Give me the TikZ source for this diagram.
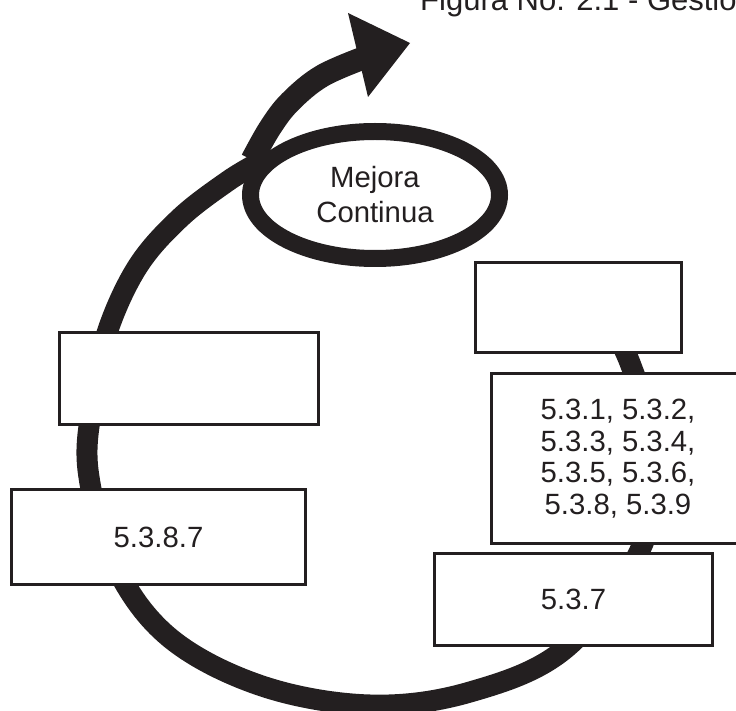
\documentclass[tikz,border=0pt]{standalone}
\usepackage{fontspec}
\setmainfont{Liberation Sans}
\usetikzlibrary{shapes.geometric}
\definecolor{ink}{HTML}{231F20}
\begin{document}
\begin{tikzpicture}[x=1pt,y=-1pt,
  band/.style={draw=ink, line width=21pt, line cap=butt, line join=round},
  panel/.style={rectangle, draw=ink, line width=3pt, fill=white, inner sep=0pt,
    align=center, text=ink, font=\fontsize{29.3}{31.7}\selectfont},
  ring/.style={ellipse, draw=ink, line width=17pt, fill=white, inner sep=0pt,
    minimum width=249pt, minimum height=127pt, align=center, text=ink,
    font=\fontsize{29.3}{35}\selectfont},
]
\useasboundingbox (0,0) rectangle (736,711);

% caption, running off the top and right edges
\node[anchor=base west, inner sep=0pt, text=ink, font=\fontsize{31}{36}\selectfont]
  (title) at (420,11) {Figura No. 2.1 - Gestión};

% the big clockwise cycle, starting behind the upper right panel
\draw[band] plot[smooth, tension=0.6] coordinates {
  (600,305) (630,363) (655,452) (641,548) (566,648) (470,692) (370,705)
  (262,686) (170,638) (115,565) (88,470) (94,395) (108,330) (138,266)
  (180,218) (228,181) (258,163)};

% rising shaft and head of the improvement arrow
\draw[band, line width=23pt] plot[smooth, tension=0.6] coordinates {
  (252,160) (270,128) (290,102) (322,76) (366,57)};
\coordinate (h1) at (348,13);
\coordinate (h2) at (410,43);
\coordinate (h3) at (368,97);
\fill[ink] (h1) -- (h2) -- (h3) -- cycle;

% continuous improvement ring
\node[ring] (mejora) at (375,195) {Mejora\\Continua};

% panels
\node[panel, minimum width=259pt, minimum height=92pt] (pUL) at (189,378.5) {};
\node[panel, minimum width=294pt, minimum height=95pt] (pLL) at (158.5,537) {5.3.8.7};
\node[panel, minimum width=206pt, minimum height=90pt] (pUR) at (578.5,307.5) {};
\node[panel, minimum width=253pt, minimum height=170pt] (pMR) at (618,458.5)
  {5.3.1, 5.3.2,\\5.3.3, 5.3.4,\\5.3.5, 5.3.6,\\5.3.8, 5.3.9};
\node[panel, minimum width=278pt, minimum height=92pt] (pLR) at (573.5,599.5) {5.3.7};
\end{tikzpicture}
\end{document}
